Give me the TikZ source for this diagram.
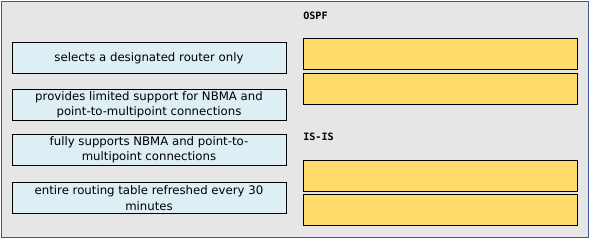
\documentclass[tikz,border=0pt]{standalone}
\usepackage{fontspec}
\setmainfont{DejaVu Sans}
\newfontfamily\labelfont{DejaVu Sans Mono}
\usepackage{xcolor}
\definecolor{panelgray}{HTML}{E6E6E6}
\definecolor{panelblue}{HTML}{3B5998}
\definecolor{answerblue}{HTML}{DDEEF4}
\definecolor{slotyellow}{HTML}{FFDB6B}
\tikzset{
  answer/.style={draw=black, fill=answerblue, minimum width=205.5pt, minimum height=23.5pt,
    align=center, inner sep=0pt, font=\fontsize{8.8}{11.5}\selectfont},
  slot/.style={draw=black, fill=slotyellow, minimum width=205.5pt, minimum height=23.25pt, inner sep=0pt},
  heading/.style={anchor=west, inner sep=0pt, font=\labelfont\bfseries\fontsize{7.6}{9}\selectfont}
}
\begin{document}
\begin{tikzpicture}[x=0.75pt,y=-0.75pt]
      \useasboundingbox (0,0) rectangle (590,240);
      \draw [panelblue, fill=panelgray] (1,1) rectangle (588,237);
      \node [answer] (A) at (149,58) {selects a designated router only};
      \node [answer] (B) at (149,105) {provides limited support for NBMA and\\point-to-multipoint connections};
      \node [answer] (C) at (149,150) {fully supports NBMA and point-to-\\multipoint connections};
      \node [answer] (D) at (149,198) {entire routing table refreshed every 30\\minutes};
      \node [heading] (ospf) at (303,16) {OSPF};
      \node [slot] (R1) at (440,53.5) {};
      \node [slot] (R2) at (440,88.5) {};
      \node [heading] (isis) at (303,137) {IS-IS};
      \node [slot] (R3) at (440,175.5) {};
      \node [slot] (R4) at (440,210) {};
    \end{tikzpicture}
\end{document}
